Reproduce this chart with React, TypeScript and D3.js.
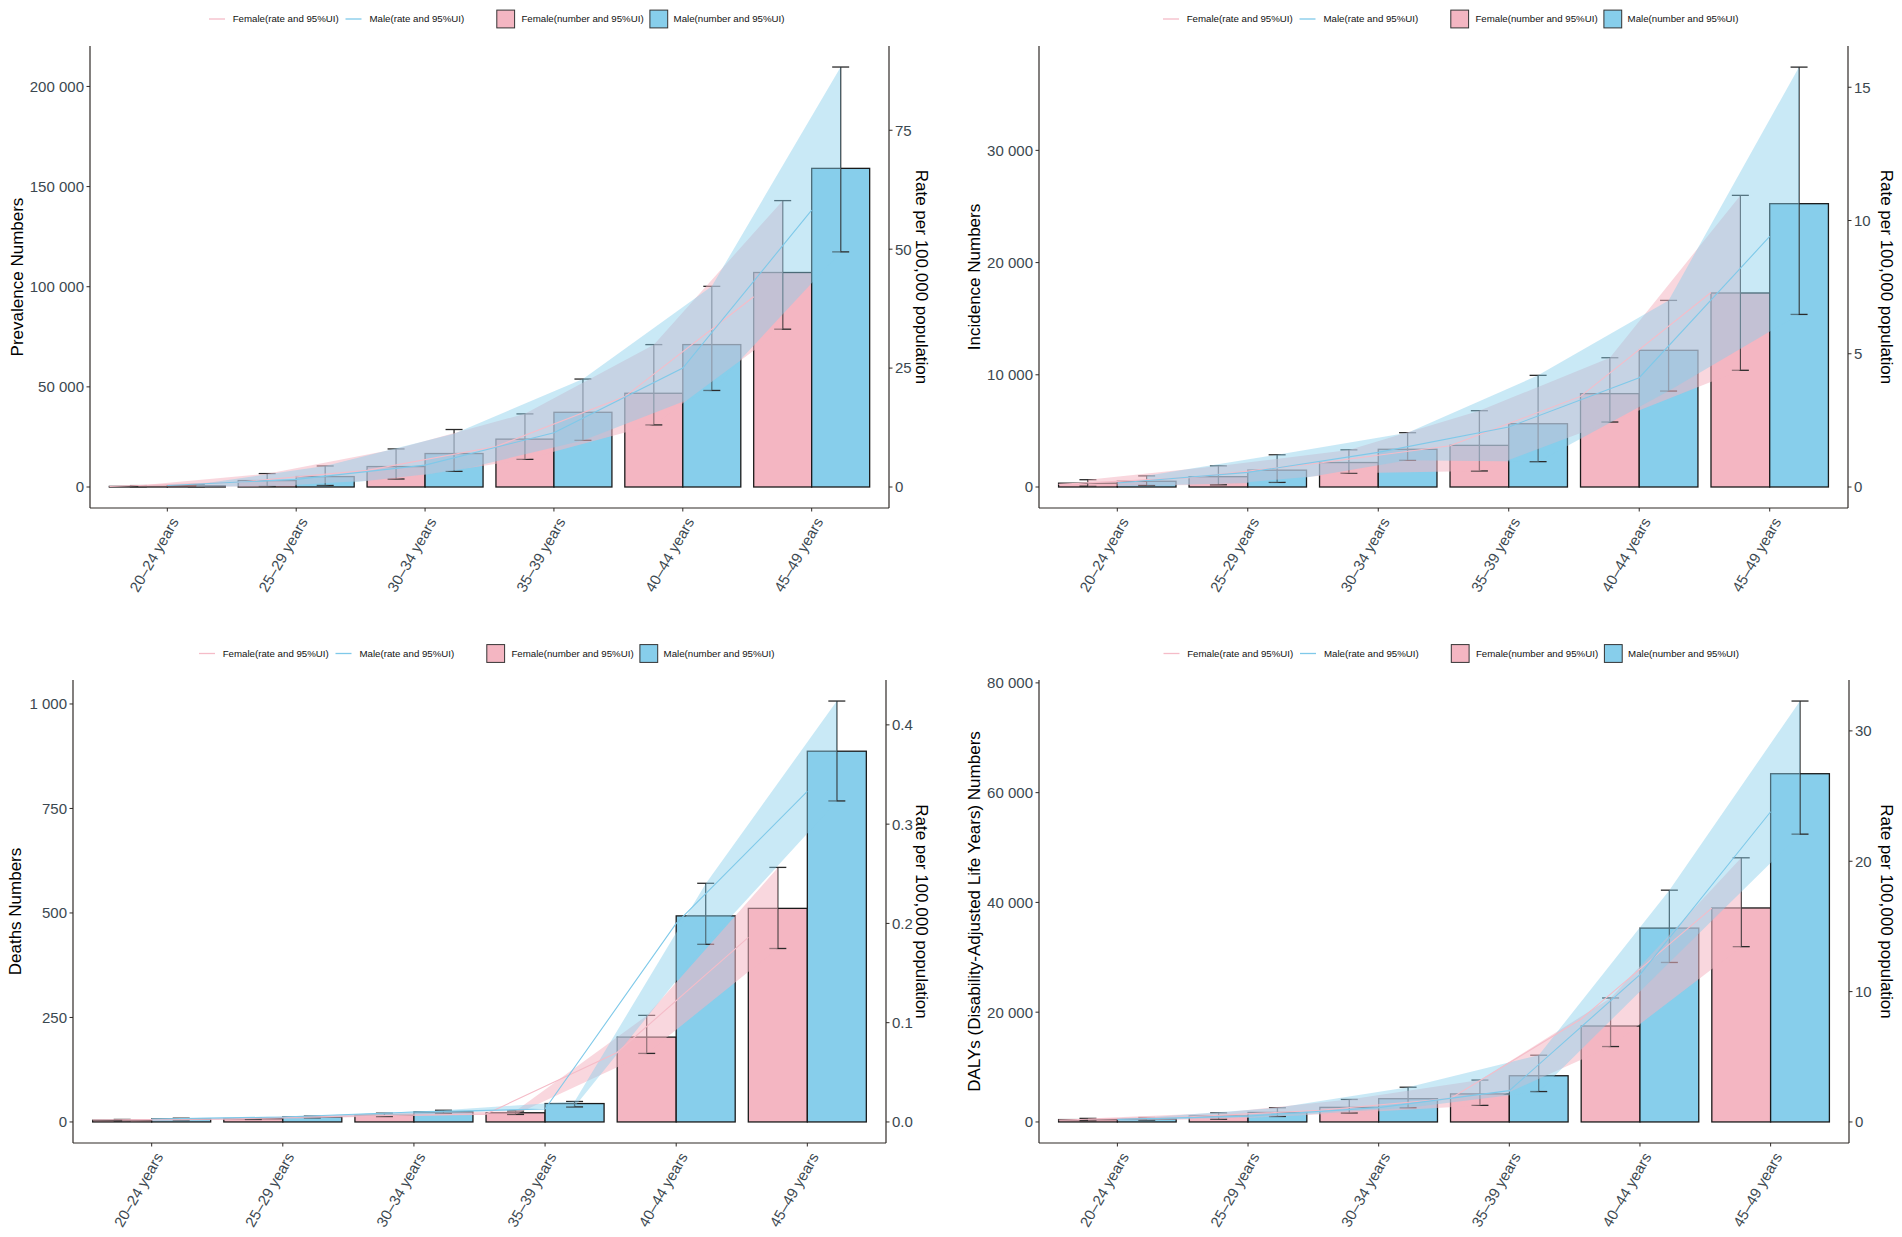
import React from 'react';
import * as d3 from 'd3';

// ---------- shared ----------
const ageGroups = ['20–24 years', '25–29 years', '30–34 years', '35–39 years', '40–44 years', '45–49 years'];
const rateFactor = 2375; // numbers per 1 rate unit (secondary axis transform)

// ---------- Prevalence ----------
const prevFemaleNum = [300, 3200, 10200, 23900, 46800, 107100];
const prevFemaleLo = [100, 300, 4000, 13800, 31000, 78800];
const prevFemaleHi = [700, 6700, 19000, 36500, 71100, 143000];
const prevMaleNum = [600, 5200, 16700, 37300, 71100, 159100];
const prevMaleLo = [100, 800, 7800, 23300, 48200, 117400];
const prevMaleHi = [1200, 10500, 28700, 53900, 100200, 209700];
const prevFemaleRate = [0.1, 1.0, 3.5, 8.5, 19, 40];
const prevFemaleRateLo = [0.04, 0.13, 1.7, 5.8, 13.1, 33.2];
const prevFemaleRateHi = [0.3, 2.8, 8.0, 15.4, 29.9, 60.2];
const prevMaleRate = [0.3, 1.6, 4.6, 11.4, 25, 58.2];
const prevMaleRateLo = [0.04, 0.34, 3.3, 9.8, 20.3, 49.4];
const prevMaleRateHi = [0.5, 4.4, 11.2, 22.7, 42.2, 88.3];
const prevTicks = [0, 50000, 100000, 150000, 200000];
const prevRateTicks = [0, 25, 50, 75];

// ---------- Incidence ----------
const incFemaleNum = [340, 920, 2180, 3710, 8320, 17290];
const incFemaleLo = [70, 200, 1230, 1430, 5790, 10400];
const incFemaleHi = [650, 1880, 3310, 6800, 11520, 25990];
const incMaleNum = [510, 1500, 3360, 5640, 12180, 25250];
const incMaleLo = [140, 410, 2380, 2260, 8550, 15380];
const incMaleHi = [990, 2870, 4840, 9950, 16630, 37420];
const incFemaleRate = [0.1, 0.35, 0.9, 1.55, 3.4, 7.3];
const incFemaleRateLo = [0.03, 0.08, 0.52, 0.6, 2.44, 4.38];
const incFemaleRateHi = [0.27, 0.79, 1.39, 2.86, 4.85, 10.94];
const incMaleRate = [0.15, 0.55, 1.3, 2.25, 4.1, 9.4];
const incMaleRateLo = [0.06, 0.17, 1.0, 0.95, 3.6, 6.48];
const incMaleRateHi = [0.42, 1.21, 2.04, 4.19, 7.0, 15.76];
const incTicks = [0, 10000, 20000, 30000];
const incRateTicks = [0, 5, 10, 15];

// ---------- Deaths ----------
const dthFemaleNum = [4, 8, 16, 22, 203, 511];
const dthFemaleLo = [2, 6, 13, 18, 164, 415];
const dthFemaleHi = [6, 10, 21, 26, 255, 609];
const dthMaleNum = [7, 12, 24, 44, 493, 887];
const dthMaleLo = [5, 10, 20, 36, 425, 768];
const dthMaleHi = [9, 14, 28, 49, 571, 1007];
const dthFemaleRate = [0.002, 0.003, 0.006, 0.008, 0.07, 0.186];
const dthFemaleRateLo = [0.0008, 0.0025, 0.0055, 0.0076, 0.069, 0.175];
const dthFemaleRateHi = [0.0025, 0.0042, 0.0088, 0.011, 0.107, 0.256];
const dthMaleRate = [0.003, 0.005, 0.01, 0.013, 0.2, 0.333];
const dthMaleRateLo = [0.0021, 0.0042, 0.0084, 0.0152, 0.179, 0.323];
const dthMaleRateHi = [0.0038, 0.0059, 0.0118, 0.0206, 0.24, 0.424];
const dthTicks = [0, 250, 500, 750, 1000];
const dthRateTicks = [0, 0.1, 0.2, 0.3, 0.4];

// ---------- DALYs ----------
const dalFemaleNum = [430, 1080, 2660, 5110, 17480, 38990];
const dalFemaleLo = [220, 500, 1650, 3020, 13740, 31940];
const dalFemaleHi = [650, 1650, 4100, 7630, 22590, 48130];
const dalMaleNum = [550, 1730, 4240, 8420, 35320, 63450];
const dalMaleLo = [350, 1000, 2590, 5540, 29060, 52440];
const dalMaleHi = [800, 2590, 6330, 12160, 42230, 76690];
const dalFemaleRate = [0.15, 0.4, 0.9, 1.8, 7.9, 16.4];
const dalFemaleRateLo = [0.09, 0.21, 0.69, 1.27, 5.79, 13.45];
const dalFemaleRateHi = [0.27, 0.69, 1.73, 3.21, 9.51, 20.27];
const dalMaleRate = [0.2, 0.45, 1.1, 2.4, 11.3, 23.8];
const dalMaleRateLo = [0.15, 0.42, 1.09, 2.33, 12.24, 22.08];
const dalMaleRateHi = [0.34, 1.09, 2.67, 5.12, 17.78, 32.29];
const dalTicks = [0, 20000, 40000, 60000, 80000];
const dalRateTicks = [0, 10, 20, 30];

const legendLabels = ['Female(rate and 95%UI)', 'Male(rate and 95%UI)', 'Female(number and 95%UI)', 'Male(number and 95%UI)'];

// ---------- style ----------
const FEMALE = '#F4B6C2';
const MALE = '#87CEEB';
const FEMALE_LINE = '#F5BCC8';
const MALE_LINE = '#7FC9E9';
const AXIS = '#2f2a27';
const TICKTXT = '#3b4850';
const FONT = 'Liberation Sans, Arial, Helvetica, sans-serif';

const numFmt = d3.formatLocale({ decimal: '.', thousands: ' ', grouping: [3], currency: ['', ''] }).format(',');

type PanelCfg = {
  yTitle: string;
  fNum: number[]; fLo: number[]; fHi: number[];
  mNum: number[]; mLo: number[]; mHi: number[];
  fRate: number[]; fRateLo: number[]; fRateHi: number[];
  mRate: number[]; mRateLo: number[]; mRateHi: number[];
  ticks: number[]; rateTicks: number[]; rateFmt: (v: number) => string;
  left: number; right: number; top: number; bottom: number;
  yTitleX: number; rTitleX: number; legendY: number;
};

const panels: PanelCfg[] = [
  {
    yTitle: 'Prevalence Numbers',
    fNum: prevFemaleNum, fLo: prevFemaleLo, fHi: prevFemaleHi,
    mNum: prevMaleNum, mLo: prevMaleLo, mHi: prevMaleHi,
    fRate: prevFemaleRate, fRateLo: prevFemaleRateLo, fRateHi: prevFemaleRateHi,
    mRate: prevMaleRate, mRateLo: prevMaleRateLo, mRateHi: prevMaleRateHi,
    ticks: prevTicks, rateTicks: prevRateTicks, rateFmt: d3.format('d'),
    left: 90, right: 889, top: 46, bottom: 508, yTitleX: 17, rTitleX: 922, legendY: 19,
  },
  {
    yTitle: 'Incidence Numbers',
    fNum: incFemaleNum, fLo: incFemaleLo, fHi: incFemaleHi,
    mNum: incMaleNum, mLo: incMaleLo, mHi: incMaleHi,
    fRate: incFemaleRate, fRateLo: incFemaleRateLo, fRateHi: incFemaleRateHi,
    mRate: incMaleRate, mRateLo: incMaleRateLo, mRateHi: incMaleRateHi,
    ticks: incTicks, rateTicks: incRateTicks, rateFmt: d3.format('d'),
    left: 1039, right: 1848, top: 46, bottom: 508, yTitleX: 974, rTitleX: 1887, legendY: 19,
  },
  {
    yTitle: 'Deaths Numbers',
    fNum: dthFemaleNum, fLo: dthFemaleLo, fHi: dthFemaleHi,
    mNum: dthMaleNum, mLo: dthMaleLo, mHi: dthMaleHi,
    fRate: dthFemaleRate, fRateLo: dthFemaleRateLo, fRateHi: dthFemaleRateHi,
    mRate: dthMaleRate, mRateLo: dthMaleRateLo, mRateHi: dthMaleRateHi,
    ticks: dthTicks, rateTicks: dthRateTicks, rateFmt: d3.format('.1f'),
    left: 73, right: 886, top: 680, bottom: 1143, yTitleX: 15, rTitleX: 922, legendY: 653.5,
  },
  {
    yTitle: 'DALYs (Disability-Adjusted Life Years) Numbers',
    fNum: dalFemaleNum, fLo: dalFemaleLo, fHi: dalFemaleHi,
    mNum: dalMaleNum, mLo: dalMaleLo, mHi: dalMaleHi,
    fRate: dalFemaleRate, fRateLo: dalFemaleRateLo, fRateHi: dalFemaleRateHi,
    mRate: dalMaleRate, mRateLo: dalMaleRateLo, mRateHi: dalMaleRateHi,
    ticks: dalTicks, rateTicks: dalRateTicks, rateFmt: d3.format('d'),
    left: 1039, right: 1849, top: 680, bottom: 1143, yTitleX: 974, rTitleX: 1887, legendY: 653.5,
  },
];

function Legend({ cx, y }: { cx: number; y: number }) {
  const L = cx - 280.5;
  const fs = 9.7;
  return (
    <g fontFamily={FONT} fontSize={fs} fill="#111">
      <line x1={L} x2={L + 16} y1={y} y2={y} stroke={FEMALE_LINE} strokeWidth={1.3} />
      <text x={L + 23.7} y={y} dy="0.35em">{legendLabels[0]}</text>
      <line x1={L + 136.5} x2={L + 152.5} y1={y} y2={y} stroke={MALE_LINE} strokeWidth={1.3} />
      <text x={L + 160.5} y={y} dy="0.35em">{legendLabels[1]}</text>
      <rect x={L + 287.8} y={y - 8.9} width={17.8} height={17.8} fill={FEMALE} stroke="#333" strokeWidth={1} />
      <text x={L + 312.4} y={y} dy="0.35em">{legendLabels[2]}</text>
      <rect x={L + 440.9} y={y - 8.9} width={17.8} height={17.8} fill={MALE} stroke="#333" strokeWidth={1} />
      <text x={L + 464.6} y={y} dy="0.35em">{legendLabels[3]}</text>
    </g>
  );
}

function Panel({ p }: { p: PanelCfg }) {
  const idx = ageGroups.map((_, i) => i);
  const x = d3.scaleLinear().domain([-0.6, ageGroups.length - 1 + 0.6]).range([p.left, p.right]);
  const unit = x(1) - x(0);
  const maxV = d3.max([
    ...p.fHi, ...p.mHi,
    ...p.fRateHi.map((v) => v * rateFactor), ...p.mRateHi.map((v) => v * rateFactor),
  ]) as number;
  const y = d3.scaleLinear().domain([-0.05 * maxV, 1.05 * maxV]).range([p.bottom, p.top]);
  const yr = d3.scaleLinear().domain([-0.05 * maxV / rateFactor, 1.05 * maxV / rateFactor]).range([p.bottom, p.top]);
  const bw = 0.45 * unit;
  const capW = 17;

  const ribbon = (dx: number, lo: number[], hi: number[]) =>
    d3.area<number>().x((i) => x(i + dx)).y0((i) => yr(lo[i])).y1((i) => yr(hi[i]))(idx) as string;
  const rline = (dx: number, vals: number[]) =>
    d3.line<number>().x((i) => x(i + dx)).y((i) => yr(vals[i]))(idx) as string;

  const bars = (num: number[], fill: string, dx: number) =>
    idx.map((i) => {
      const x0 = x(i + dx);
      return (
        <rect key={fill + i} x={x0} y={y(num[i])} width={bw} height={Math.max(0, y(0) - y(num[i]))}
          fill={fill} stroke="#1a1a1a" strokeWidth={1.3} />
      );
    });
  const errs = (lo: number[], hi: number[], dx: number, k: string) =>
    idx.map((i) => {
      const cx = x(i + dx);
      return (
        <g key={k + i} stroke="#2a2a2a" strokeWidth={1.3} fill="none">
          <line x1={cx} x2={cx} y1={y(lo[i])} y2={y(hi[i])} />
          <line x1={cx - capW / 2} x2={cx + capW / 2} y1={y(lo[i])} y2={y(lo[i])} />
          <line x1={cx - capW / 2} x2={cx + capW / 2} y1={y(hi[i])} y2={y(hi[i])} />
        </g>
      );
    });

  const cxPanel = (p.left + p.right) / 2;
  const cyPanel = (p.top + p.bottom) / 2;

  return (
    <g>
      <Legend cx={cxPanel} y={p.legendY} />
      {/* bars */}
      {bars(p.fNum, FEMALE, -0.45)}
      {bars(p.mNum, MALE, 0)}
      {/* error bars */}
      {errs(p.fLo, p.fHi, -0.225, 'fe')}
      {errs(p.mLo, p.mHi, 0.225, 'me')}
      {/* ribbons */}
      <path d={ribbon(-0.225, p.fRateLo, p.fRateHi)} fill={FEMALE} fillOpacity={0.55} stroke="none" />
      <path d={ribbon(0.225, p.mRateLo, p.mRateHi)} fill={MALE} fillOpacity={0.45} stroke="none" />
      {/* rate lines */}
      <path d={rline(-0.45, p.fRate)} fill="none" stroke={FEMALE_LINE} strokeWidth={1.1} />
      <path d={rline(0, p.mRate)} fill="none" stroke={MALE_LINE} strokeWidth={1.1} />
      {/* axes */}
      <line x1={p.left} x2={p.left} y1={p.top} y2={p.bottom} stroke={AXIS} strokeWidth={1.2} />
      <line x1={p.right} x2={p.right} y1={p.top} y2={p.bottom} stroke={AXIS} strokeWidth={1.2} />
      <line x1={p.left} x2={p.right} y1={p.bottom} y2={p.bottom} stroke={AXIS} strokeWidth={1.2} />
      {p.ticks.map((t) => (
        <g key={'yt' + t}>
          <line x1={p.left - 3.5} x2={p.left} y1={y(t)} y2={y(t)} stroke={AXIS} strokeWidth={1} />
          <text x={p.left - 6} y={y(t)} dy="0.36em" textAnchor="end" fontFamily={FONT} fontSize={15} fill={TICKTXT}>
            {numFmt(t)}
          </text>
        </g>
      ))}
      {p.rateTicks.map((t) => (
        <g key={'rt' + t}>
          <line x1={p.right} x2={p.right + 3.5} y1={yr(t)} y2={yr(t)} stroke={AXIS} strokeWidth={1} />
          <text x={p.right + 6} y={yr(t)} dy="0.36em" textAnchor="start" fontFamily={FONT} fontSize={15} fill={TICKTXT}>
            {p.rateFmt(t)}
          </text>
        </g>
      ))}
      {idx.map((i) => (
        <g key={'xt' + i}>
          <line x1={x(i)} x2={x(i)} y1={p.bottom} y2={p.bottom + 3.5} stroke={AXIS} strokeWidth={1} />
          <text transform={`translate(${x(i) + 7.5},${p.bottom + 11}) rotate(-60)`} dy="0.35em" textAnchor="end"
            fontFamily={FONT} fontSize={15} fill={TICKTXT}>
            {ageGroups[i]}
          </text>
        </g>
      ))}
      <text transform={`translate(${p.yTitleX},${cyPanel}) rotate(-90)`} dy="0.35em" textAnchor="middle"
        fontFamily={FONT} fontSize={17} fill="#000">
        {p.yTitle}
      </text>
      <text transform={`translate(${p.rTitleX},${cyPanel}) rotate(90)`} dy="0.35em" textAnchor="middle"
        fontFamily={FONT} fontSize={17} fill="#000">
        Rate per 100,000 population
      </text>
    </g>
  );
}

export default function App() {
  return (
    <svg width={1902} height={1237} viewBox="0 0 1902 1237"
      style={{ position: 'absolute', left: 0, top: 0, display: 'block', background: '#fff' }}>
      <rect x={0} y={0} width={1902} height={1237} fill="#fff" />
      {panels.map((p, i) => (
        <Panel key={i} p={p} />
      ))}
    </svg>
  );
}
